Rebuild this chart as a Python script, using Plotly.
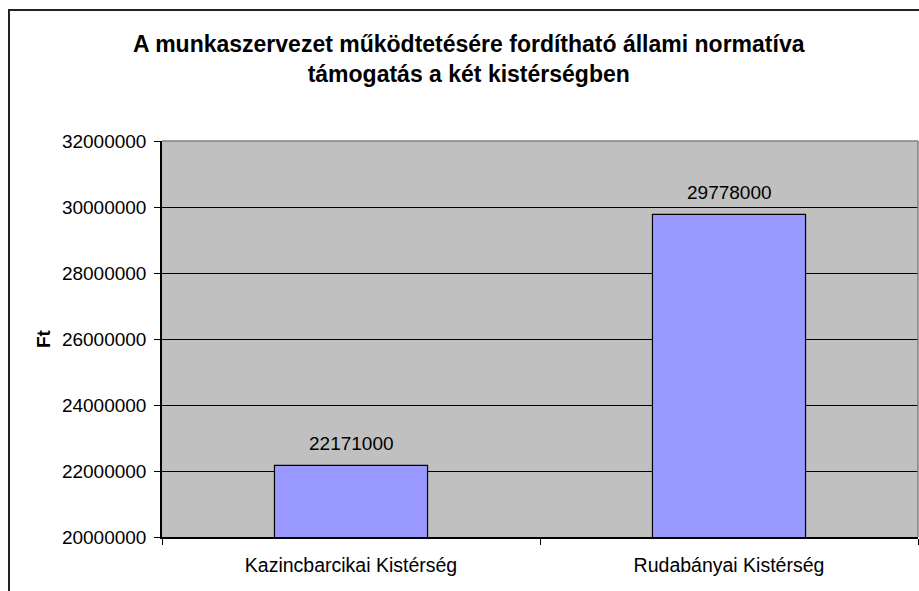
import plotly.graph_objects as go

categories = ["Kazincbarcikai Kistérség", "Rudabányai Kistérség"]
values = [22171000, 29778000]
y_ticks = [20000000, 22000000, 24000000, 26000000, 28000000, 30000000, 32000000]
title_lines = ["A munkaszervezet működtetésére fordítható állami normatíva",
               "támogatás a két kistérségben"]
y_title = "Ft"

W, H = 919, 591
L, R, T, B = 162, 1, 141, 54
pw = W - L - R
ph = H - T - B

def px_x(x):
    return (x - L) / pw

def px_y(y):
    return 1 - (y - T) / ph

font = "Liberation Sans, Arial, sans-serif"

fig = go.Figure()
fig.add_trace(go.Bar(
    x=categories, y=values,
    marker=dict(color="#9999FF", line=dict(color="#000000", width=1.2)),
    width=0.405,
    hoverinfo="x+y",
))

for c, v in zip(categories, values):
    fig.add_annotation(x=c, y=v, text=str(v), showarrow=False,
                       yanchor="bottom", yshift=9,
                       font=dict(family=font, size=19, color="#000000"))

fig.add_annotation(xref="paper", yref="paper", x=px_x(469), y=px_y(59),
                   text="<b>" + title_lines[0] + "</b><br><b>" + title_lines[1] + "</b>",
                   showarrow=False, xanchor="center", yanchor="middle",
                   font=dict(family=font, size=23, color="#000000"))

fig.add_annotation(xref="paper", yref="paper", x=px_x(43), y=0.5,
                   text="<b>" + y_title + "</b>", textangle=-90,
                   showarrow=False, xanchor="center", yanchor="middle",
                   font=dict(family=font, size=19, color="#000000"))

# outer chart border
fig.add_shape(type="rect", xref="paper", yref="paper",
              x0=px_x(9), x1=px_x(940), y0=px_y(620), y1=px_y(10),
              line=dict(color="#222222", width=2), fillcolor="rgba(0,0,0,0)",
              layer="below")

fig.update_layout(
    width=W, height=H,
    margin=dict(l=L, r=R, t=T, b=B, pad=0),
    paper_bgcolor="#FFFFFF",
    plot_bgcolor="#C0C0C0",
    showlegend=False,
    font=dict(family=font, size=19, color="#000000"),
)
fig.update_xaxes(
    type="category",
    showgrid=False,
    showline=True, linecolor="#000000", linewidth=1.5,
    ticks="outside", tickson="boundaries", ticklen=6, tickcolor="#000000",
    ticklabelstandoff=10,
    tickfont=dict(family=font, size=19.5, color="#000000"),
    mirror=False,
)
fig.update_yaxes(
    range=[20000000, 32000000],
    tickvals=y_ticks, ticktext=[str(t) for t in y_ticks],
    showgrid=True, gridcolor="#000000", gridwidth=1,
    showline=True, linecolor="#000000", linewidth=1.5,
    ticks="outside", ticklen=6, tickcolor="#000000",
    ticklabelstandoff=4,
    tickfont=dict(family=font, size=19, color="#000000"),
    zeroline=False,
)
# right/top plot border in gray
fig.add_shape(type="line", xref="paper", yref="paper", x0=1, x1=1, y0=0, y1=1,
              line=dict(color="#808080", width=1.5))
fig.add_shape(type="line", xref="paper", yref="paper", x0=0, x1=1, y0=1, y1=1,
              line=dict(color="#808080", width=1.5))

fig.write_html("out.html",
               config={"displayModeBar": False},
               post_script="document.body.style.margin='0';document.body.style.overflow='hidden';")
